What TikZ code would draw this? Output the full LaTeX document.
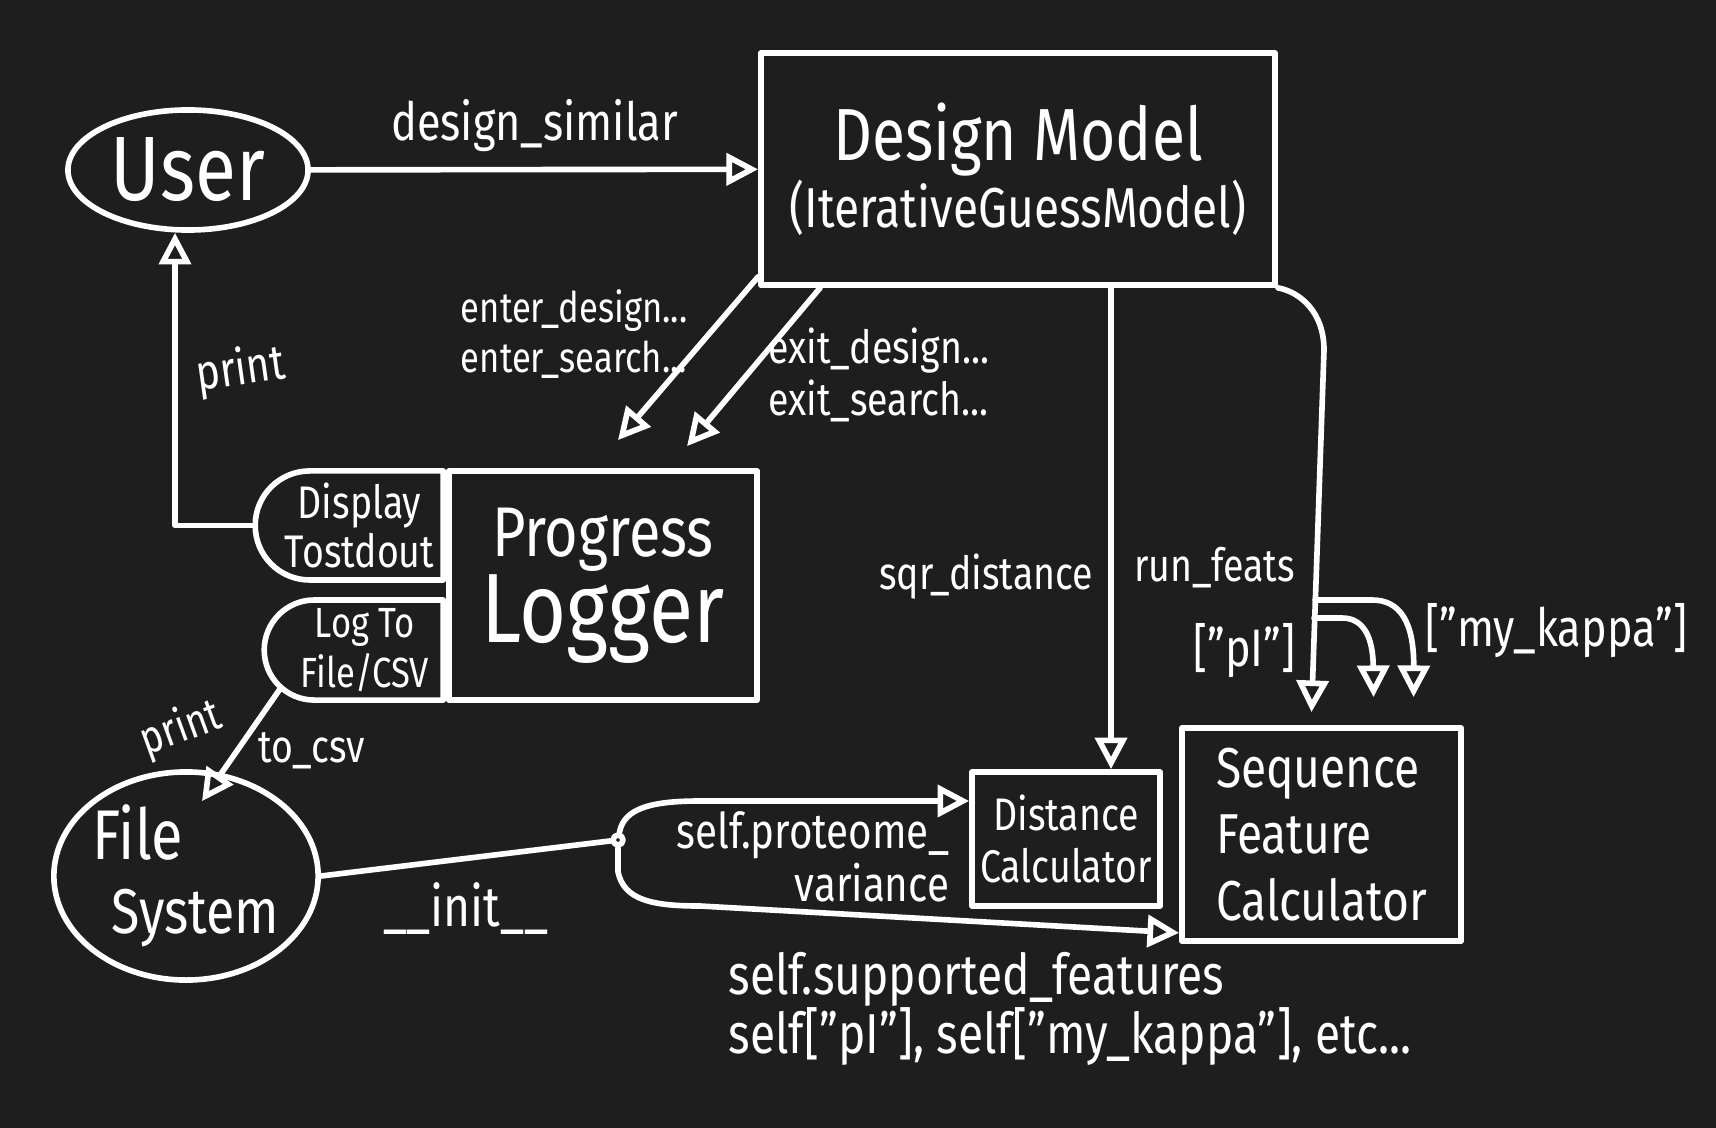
\documentclass[tikz,border=0pt]{standalone}
\usepackage{fontspec}
\setmainfont{Fira Sans}[FakeStretch=0.82]
\usetikzlibrary{arrows.meta, positioning, shapes.geometric, shapes.misc}
\definecolor{pizarra}{RGB}{30,30,30}
\newcommand{\letra}[2]{\fontsize{#1pt}{#2pt}\selectfont}
\tikzset{
  flecha/.style={-{Triangle[open, length=9pt, width=9pt]}},
  caja/.style={draw, rectangle, align=center, inner sep=2pt},
  ovalo/.style={draw, ellipse, align=center, inner sep=0pt},
  mitad/.style={draw, rounded rectangle, rounded rectangle right arc=none, align=center, inner sep=1pt},
  punto/.style={draw, circle, fill=pizarra, inner sep=0pt, minimum size=0.1cm}
}

\begin{document}
\begin{tikzpicture}[x=0.01cm, y=-0.01cm, color=white, line width=1.6pt, line cap=round, line join=round]
    % fondo
    \fill[pizarra] (0,0) rectangle (1716,1128);
    \useasboundingbox (0,0) rectangle (1716,1128);
    % actores
    \node[ovalo, minimum width=2.4cm, minimum height=1.2cm, font=\letra{26}{30}] (user) at (188,170) {User};
    \node[ovalo, minimum width=2.52cm, minimum height=2.08cm, font=\letra{18}{21}, align=left] (filesys) at (186,876) {{\letra{20}{21}File}\\\hspace{0.3em}System};
    % modelo
    \node[caja, minimum width=5.14cm, minimum height=2.32cm] (design) at (1018,169)
      {{\letra{21}{30}Design Model}\\{\letra{16}{24}(IterativeGuessModel)}};
    % registro
    \node[caja, minimum width=3.08cm, minimum height=2.29cm] (logger) at (603,585.5)
      {{\letra{20}{30}Progress}\\{\letra{28}{30}Logger}};
    \node[mitad, minimum width=1.95cm, minimum height=1.09cm, below left=0pt and 0pt of logger.north west, font=\letra{13}{14}] (display) {Display\\Tostdout};
    \node[mitad, minimum width=1.86cm, minimum height=1.0cm, above left=0pt and 0pt of logger.south west, font=\letra{12}{14}] (logcsv) {Log To\\File/CSV};
    % calculadoras
    \node[caja, minimum width=1.88cm, minimum height=1.34cm, font=\letra{13}{15}] (distcalc) at (1066,839) {Distance\\Calculator};
    \node[caja, minimum width=2.79cm, minimum height=2.13cm, align=left, font=\letra{16}{19}] (seqcalc) at (1321.5,834.5) {Sequence\\Feature\\Calculator};
    \node[punto] (nodo) at (618,840) {};

    % llamadas del usuario
    \draw[flecha] (user) -- (design) node[midway, above=0.03cm, font=\letra{15}{17}] {design\_similar};
    \draw[flecha] (display.west) -| ([xshift=-0.13cm]user.south)
      node[pos=0.75, right=2pt, rotate=8, font=\letra{14}{16}] {print};
    % eventos de progreso
    \draw[flecha] ([yshift=0.11cm]design.south west) -- ([xshift=0.15cm,yshift=0.28cm]logger.north)
      node[pos=0.35, left=2pt, align=left, font=\letra{12}{14}] {enter\_design...\\enter\_search...};
    \draw[flecha] ([xshift=0.62cm]design.south west) -- ([xshift=0.84cm,yshift=0.22cm]logger.north)
      node[pos=0.55, right=2pt, align=left, font=\letra{13}{15}] {exit\_design...\\exit\_search...};
    % distancias
    \draw[flecha] ([xshift=0.45cm]distcalc.north |- design.south) -- ([xshift=0.45cm]distcalc.north)
      node[pos=0.6, left=1pt, font=\letra{13}{15}] {sqr\_distance};
    % rasgos
    \draw[flecha] (design.south east) .. controls (1300,292) and (1324,312) .. (1324,350)
      -- ([xshift=-0.1cm,yshift=0.13cm]seqcalc.north)
      node[pos=0.6, left=2pt, font=\letra{13}{15}] {run\_feats}
      node[pos=0.83, left=1pt, font=\letra{15}{17}] {["pI"]};
    \coordinate (rama1) at (1315,600);
    \coordinate (rama2) at (1314,618);
    \draw[flecha] (rama1) -- (1372,600) .. controls (1400,600) and (1414,622) .. ([xshift=0.92cm,yshift=0.28cm]seqcalc.north)
      node[pos=0.6, right=1pt, font=\letra{15}{17}] {["my\_kappa"]};
    \draw[flecha] (rama2) -- (1342,618) .. controls (1364,618) and (1373,638) .. ([xshift=0.52cm,yshift=0.28cm]seqcalc.north);
    % salida a archivo
    \draw[flecha] (logcsv.205) -- ([xshift=0.16cm,yshift=-0.32cm]filesys.north)
      node[pos=0.18, left=9pt, rotate=20, font=\letra{13}{15}] {print}
      node[pos=0.55, right=2pt, font=\letra{13}{15}] {to\_csv};
    % inicializacion
    \draw (filesys.east) -- (nodo) node[midway, below=0.1cm, font=\letra{16}{18}] {\_\_init\_\_};
    \draw[flecha] (nodo) .. controls (624,808) and (652,801) .. (700,801) -- ([yshift=0.38cm]distcalc.west)
      node[pos=0.42, below=-0.04cm, align=right, font=\letra{14}{15}] {self.proteome\_\\variance};
    \draw[flecha] (nodo) -- (618,872) .. controls (624,900) and (652,906) .. (700,906) -- ([yshift=0.11cm]seqcalc.south west)
      node[pos=0.05, below right=0.3cm and -0.1cm, align=left, font=\letra{16}{17}] {self.supported\_features\\self["pI"], self["my\_kappa"], etc...};
\end{tikzpicture}
\end{document}
